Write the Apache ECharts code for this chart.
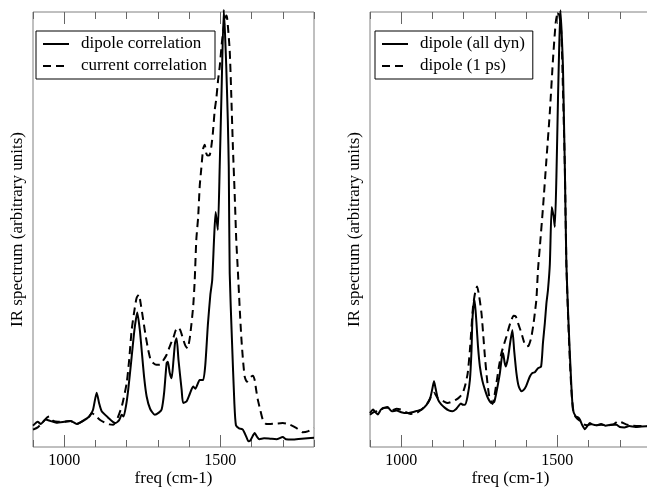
<!DOCTYPE html>
<html>
<head>
<meta charset="utf-8">
<script src="https://cdn.jsdelivr.net/npm/echarts@6/dist/echarts.min.js"></script>
<style>html,body{margin:0;padding:0;background:#fff}#c{width:647px;height:487px}</style>
</head>
<body>
<div id="c"></div>
<script>
// ---- data (arbitrary units, frequency in cm-1) ----
var dipoleCorrFreq = [900,915,925,940,955,975,1000,1020,1040,1060,1080,1092,1104,1112,1120,1140,1163,1176,1184,1190,1198,1205,1215,1225,1234,1242,1248,1256,1264,1275,1290,1303,1312,1320,1328,1332,1338,1344,1350,1355,1360,1366,1376,1381,1392,1400,1413,1420,1434,1445,1452,1460,1468,1474,1480,1485,1492,1498,1504,1511,1515,1519,1524,1527,1530,1537,1545,1550,1560,1572,1583,1590,1597,1610,1618,1625,1640,1660,1680,1700,1710,1730,1760,1800];
var dipoleCorrVal  = [4.9,5.8,5.3,6.3,6.0,5.6,5.8,6.0,5.3,6.0,7.0,8.5,12.5,10.0,8.2,6.8,5.5,6.2,7.4,7.0,9.5,13.2,20,27,30.9,27,22.3,16,11.6,8.8,7.4,7.9,8.6,12.5,19.3,19.6,17,15.8,20,24.0,25.0,20,13.2,10.1,10.5,11.8,13.9,13.4,15.4,15.4,19,28,35,38.4,48,54,49.9,64.4,82,100.5,95,87.4,75,64.4,40,25,10,5,4.3,4.0,2.4,1.3,1.6,3.2,2.3,1.8,2.0,1.9,1.8,2.3,1.8,1.7,1.9,2.1];

var currentCorrFreq = [900,915,930,945,952,965,980,1000,1020,1040,1060,1080,1088,1100,1115,1130,1145,1157,1170,1185,1200,1208,1216,1226,1232,1239,1246,1253,1261,1269,1277,1285,1295,1306,1318,1328,1340,1349,1357,1365,1372,1380,1388,1395,1403,1413,1418,1423,1429,1434,1439,1445,1450,1455,1460,1466,1471,1476,1482,1487,1493,1498,1505,1512,1519,1522,1530,1535,1540,1546,1551,1556,1562,1567,1572,1578,1585,1592,1599,1604,1610,1615,1620,1628,1636,1647,1660,1680,1700,1720,1743,1755,1764,1780,1800];
var currentCorrVal  = [4.0,4.5,5.6,6.8,7.0,6.0,5.8,5.8,6.0,5.3,6.0,7.0,7.8,7.2,6.2,5.6,5.2,5.1,6.5,9.5,14.7,20,26.9,32,34.3,35.0,32.5,29.2,25.5,22.3,20.0,19.3,18.9,18.9,20.0,21.2,23.5,25.0,26.8,27.5,26.8,25,23.3,22.7,25.5,32.3,38.4,47.6,52.9,60,64,68.6,69.5,67.5,67.0,67.1,69,72.1,77.4,80,84.5,87.4,93,97,99.2,98.5,91.2,81,69.5,58,47.6,40.7,32,25.4,20.5,16.2,15.0,15.8,16.2,16.4,15.4,13.0,10.9,8.5,6.3,5.3,5.3,5.4,5.5,5.2,4.4,3.8,3.4,3.6,4.4];

var dipoleAllFreq = [900,910,917,925,935,945,958,970,985,1000,1017,1035,1050,1065,1081,1092,1100,1105,1110,1118,1128,1140,1152,1164,1174,1182,1191,1198,1204,1212,1220,1225,1228,1234,1238,1241,1246,1252,1260,1268,1278,1289,1298,1306,1316,1322,1326,1331,1335,1342,1349,1356,1362,1369,1376,1385,1393,1400,1412,1420,1428,1438,1448,1454,1460,1465,1470,1476,1482,1488,1492,1497,1502,1506,1510,1514,1518,1521,1524,1529,1535,1540,1545,1550,1559,1566,1572,1580,1588,1596,1604,1612,1625,1640,1655,1670,1689,1700,1715,1730,1750,1770,1800];
var dipoleAllVal  = [7.8,8.6,8.0,7.5,8.6,9.0,9.0,8.2,8.4,8.0,7.8,8.0,8.3,8.6,9.7,11,13.5,15.1,13.5,10.9,9.8,9.0,8.4,8.2,8.6,9.3,10.0,9.7,9.7,11.5,15.4,22,29.2,34.0,31.5,28.5,23,18.5,15.2,13.2,11.2,10.1,10.4,13,17.0,20.5,21.6,19.5,18.5,20.5,24,26.9,22,17.0,14,12.8,13.2,14.0,16.2,17,17.2,18.1,18.5,24,28.5,33,36.1,42,55.2,53,50.6,62,79.7,92,100.4,95,87.4,76,64.4,42,30,21.6,14,8.6,7.0,6.8,6.3,5.0,4.1,4.8,5.5,5.2,5.0,5.3,4.9,5.1,5.1,4.6,4.5,4.8,4.6,4.7,4.8];

var dipole1psFreq = [900,912,925,940,955,970,985,1000,1015,1030,1049,1065,1081,1095,1105,1117,1133,1149,1162,1176,1187,1197,1206,1213,1220,1230,1237,1243,1250,1257,1263,1268,1275,1282,1292,1298,1305,1313,1321,1330,1337,1345,1353,1360,1367,1375,1385,1393,1401,1408,1416,1423,1428,1433,1438,1444,1454,1465,1476,1486,1495,1502,1507,1513,1518,1524,1529,1535,1540,1546,1552,1560,1572,1585,1596,1610,1625,1640,1660,1680,1694,1705,1720,1740,1760,1800];
var dipole1psVal  = [7.4,8.0,8.3,8.8,9.2,8.4,8.8,8.6,8.0,7.6,7.8,8.6,9.7,11.5,12.5,11.2,10.6,10.1,10.4,10.9,11.5,12.4,14.5,17.0,22.3,32.3,35.6,36.9,34.5,30.8,25.5,20.8,15.5,11.6,9.9,11.5,14.7,18.5,21.6,23.8,25.4,27.5,29.2,30.2,30.0,28.3,26.2,24.2,23.1,23.3,25,28,30.8,34,40.7,46,55,66,77,89,97.7,100.0,99,95,82,64.4,42,29,20,12,8.0,6.8,6.0,5.2,5.0,5.3,5.0,5.1,5.0,5.2,5.9,5.7,5.2,4.9,4.8,4.8];

var xTickLabels = [1000, 1500];
var seriesNames = ['dipole correlation','current correlation','dipole (all dyn)','dipole (1 ps)'];

function zip(a, b){ return a.map(function(v,i){ return [v, b[i]]; }); }

var FONT = 'Liberation Serif';
var FRAME = '#808080';
var TICK = '#666';

function minorAxis(grid, pos, showLabel, withName){
  return {
    type:'value', gridIndex:grid, position:pos, min:900, max:1800, interval:100,
    axisLine:{show:false},
    axisTick:{show:true, inside:true, length:7, lineStyle:{color:TICK, width:1}},
    axisLabel:{show:showLabel, margin:6, fontFamily:FONT, fontSize:16, color:'#000',
      formatter:function(v){ return xTickLabels.indexOf(v) >= 0 ? String(v) : ''; }},
    splitLine:{show:false},
    name: withName ? 'freq (cm-1)' : '',
    nameLocation:'middle', nameGap:23, nameMoveOverlap:false,
    nameTextStyle:{fontFamily:FONT, fontSize:17, color:'#000'}
  };
}
function majorAxis(grid, pos){
  return {
    type:'value', gridIndex:grid, position:pos, min:900, max:1800,
    axisLine:{show:false},
    axisTick:{show:true, inside:true, length:12, customValues:xTickLabels, lineStyle:{color:TICK, width:1}},
    axisLabel:{show:false},
    splitLine:{show:false}
  };
}
function yAx(grid){
  return {
    type:'value', gridIndex:grid, min:0, max:100,
    axisLine:{show:false}, axisTick:{show:false}, axisLabel:{show:false}, splitLine:{show:false},
    name:'IR spectrum (arbitrary units)', nameLocation:'middle', nameGap:7,
    nameTextStyle:{fontFamily:FONT, fontSize:17, color:'#000'}
  };
}
function legendCfg(names, left){
  return {
    data:names, orient:'vertical', left:left, top:31,
    borderColor:'#000', borderWidth:1, padding:[3,8,3,6],
    itemWidth:26, itemHeight:14, itemGap:2,
    itemStyle:{opacity:0, borderWidth:0},
    lineStyle:{width:2, color:'#000'},
    textStyle:{fontFamily:FONT, fontSize:17, color:'#000', lineHeight:20, padding:[0,0,0,7]},
    selectedMode:false
  };
}
function line(name, data, xi, yi, dashed){
  return {
    type:'line', name:name, data:data, xAxisIndex:xi, yAxisIndex:yi,
    symbol:'none', clip:false, smooth:0.2, animation:false,
    lineStyle:{color:'#000', width:2, type: dashed ? [8,5] : 'solid'},
    itemStyle:{color:'#000'}
  };
}

var chart = echarts.init(document.getElementById('c'), null, {renderer:'canvas'});
chart.setOption({
  backgroundColor:'#fff',
  animation:false,
  grid:[
    {left:33, top:12, width:281, bottom:40, show:true, borderColor:FRAME, borderWidth:1, backgroundColor:'transparent', containLabel:false, outerBoundsMode:'none'},
    {left:370, top:12, width:281, bottom:40, show:true, borderColor:FRAME, borderWidth:1, backgroundColor:'transparent', containLabel:false, outerBoundsMode:'none'}
  ],
  xAxis:[
    minorAxis(0,'bottom',true,true), majorAxis(0,'bottom'), minorAxis(0,'top',false,false), majorAxis(0,'top'),
    minorAxis(1,'bottom',true,true), majorAxis(1,'bottom'), minorAxis(1,'top',false,false), majorAxis(1,'top')
  ],
  yAxis:[yAx(0), yAx(1)],
  legend:[ legendCfg([seriesNames[0],seriesNames[1]], 36), legendCfg([seriesNames[2],seriesNames[3]], 375) ],
  series:[
    line(seriesNames[0], zip(dipoleCorrFreq, dipoleCorrVal), 0, 0, false),
    line(seriesNames[1], zip(currentCorrFreq, currentCorrVal), 0, 0, true),
    line(seriesNames[2], zip(dipoleAllFreq, dipoleAllVal), 4, 1, false),
    line(seriesNames[3], zip(dipole1psFreq, dipole1psVal), 4, 1, true)
  ]
});
</script>
</body>
</html>
